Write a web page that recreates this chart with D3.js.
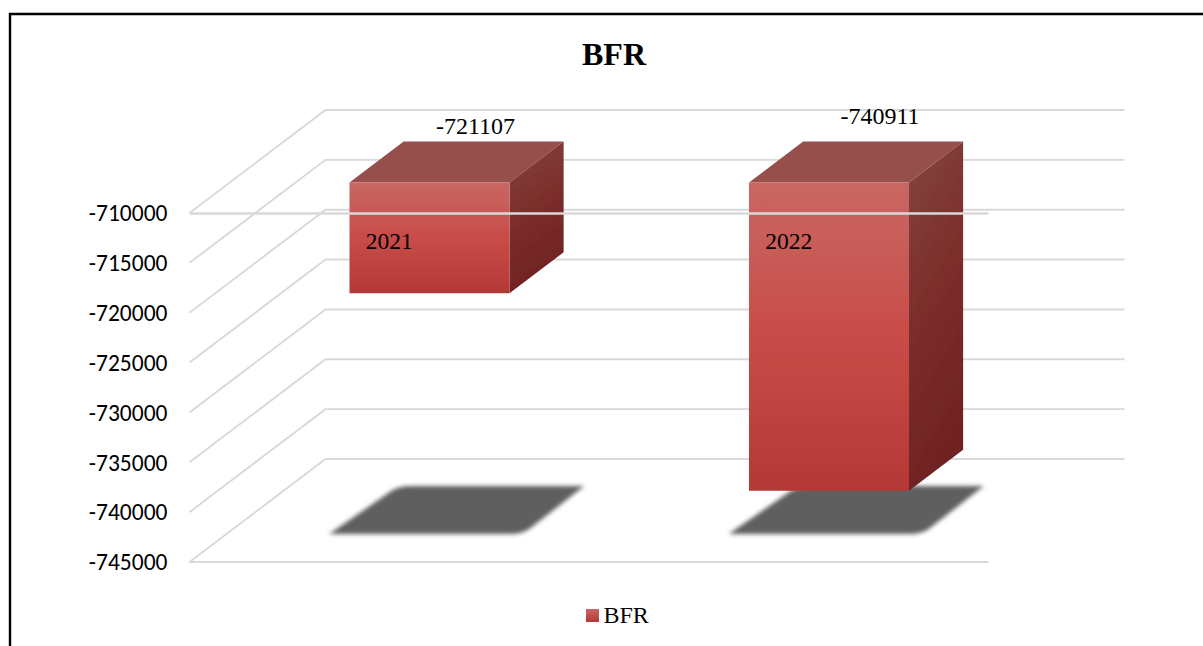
<!DOCTYPE html>
<html>
<head>
<meta charset="utf-8">
<script src="https://cdn.jsdelivr.net/npm/d3@7/dist/d3.min.js"></script>
<style>
html,body{margin:0;padding:0;background:#fff;overflow:hidden}
svg{display:block}
</style>
</head>
<body>
<svg id="chart" width="1203" height="646"></svg>
<script>
const chartTitle = "BFR";
const categories = ["2021", "2022"];
const seriesValues = [-721107, -740911];
const valueLabels = ["-721107", "-740911"];
const tickValues = [-710000, -715000, -720000, -725000, -730000, -735000, -740000, -745000];

const W = 1203, H = 646;
const svg = d3.select("#chart");
const serif = "'Liberation Serif','Times New Roman',serif";

const y = d3.scaleLinear().domain([-710000, -745000]).range([213, 562]);
const x = d3.scaleBand().domain(categories).range([189.5, 988.5]).paddingInner(0).paddingOuter(0);
const depthX = 136, depthY = 103;
const nearDepth = 0.296, farDepth = 0.694;
const barWidth = 160;
const proj = (px, v, d) => [px + d * depthX, y(v) - d * depthY];
const path = pts => "M" + pts.map(p => p.join(",")).join("L") + "Z";

const defs = svg.append("defs");
function gradient(id, x2, y2, stops) {
  const g = defs.append("linearGradient").attr("id", id)
    .attr("x1", 0).attr("y1", 0).attr("x2", x2).attr("y2", y2);
  stops.forEach(s => g.append("stop").attr("offset", s[0]).attr("stop-color", s[1]));
}
defs.append("filter").attr("id", "blur").attr("x", "-10%").attr("y", "-30%")
  .attr("width", "120%").attr("height", "160%")
  .append("feGaussianBlur").attr("stdDeviation", 2.2);
defs.append("filter").attr("id", "soft").attr("filterUnits", "userSpaceOnUse")
  .attr("x", 0).attr("y", 0).attr("width", W).attr("height", H)
  .append("feGaussianBlur").attr("stdDeviation", 0.45);

gradient("front", 0, 1, [[0, "#c96763"], [0.5, "#c84c48"], [1, "#b33936"]]);
gradient("side", 0.25, 1, [[0, "#84453f"], [0.5, "#7c2e2b"], [1, "#702222"]]);
gradient("legendGrad", 0, 1, [[0, "#cb6662"], [1, "#b43835"]]);

// frame
svg.append("path").attr("d", `M10,${H}V14H${W}`).attr("fill", "none")
  .attr("stroke", "#000").attr("stroke-width", 2.4);

// title
svg.append("text").attr("x", 614).attr("y", 65).attr("text-anchor", "middle")
  .attr("font-family", serif).attr("font-weight", "bold").attr("font-size", 32)
  .attr("fill", "#000").text(chartTitle);

const gridColor = "#d9d9d9";
const grid = svg.append("g").attr("fill", "none").attr("stroke", gridColor)
  .attr("stroke-width", 1.9).attr("filter", "url(#soft)");
const frontX = x.range()[0], frontEnd = x.range()[1];

// back wall lines and floor/side diagonals
tickValues.forEach(t => {
  const a = proj(frontX, t, 0), b = proj(frontX, t, 1), c = proj(frontEnd, t, 1);
  grid.append("path").attr("d", `M${a}L${b}L${c}`);
});
grid.append("line").attr("x1", frontX).attr("x2", frontEnd)
  .attr("y1", y(tickValues[tickValues.length - 1])).attr("y2", y(tickValues[tickValues.length - 1]));

// floor shadows
const shadowG = svg.append("g").attr("filter", "url(#blur)");
categories.forEach(c => {
  const cx = x(c) + x.bandwidth() / 2;
  const top = 486, bot = 534;
  shadowG.append("path").attr("fill", "#5e5e5e")
    .attr("d", `M${cx - 60},${bot}L${cx + 122},${bot}Q${cx + 132},${bot} ${cx + 140},${bot - 5}L${cx + 195},${top}L${cx + 22},${top}Q${cx + 10},${top} ${cx + 2},${top + 5}Z`);
});

// bars
const bars = svg.append("g").attr("filter", "url(#soft)").selectAll("g").data(categories).join("g");
bars.each(function (c, i) {
  const g = d3.select(this);
  const v = seriesValues[i], t = tickValues[0];
  const cx = x(c) + x.bandwidth() / 2;
  const l = cx - barWidth / 2, r = cx + barWidth / 2;
  g.append("path").attr("fill", "#96504c")
    .attr("d", path([proj(l, t, nearDepth), proj(r, t, nearDepth), proj(r, t, farDepth), proj(l, t, farDepth)]));
  g.append("path").attr("fill", "url(#side)")
    .attr("d", path([proj(r, t, nearDepth), proj(r, t, farDepth), proj(r, v, farDepth), proj(r, v, nearDepth)]));
  g.append("path").attr("fill", "url(#front)")
    .attr("d", path([proj(l, t, nearDepth), proj(r, t, nearDepth), proj(r, v, nearDepth), proj(l, v, nearDepth)]));
});

// front top gridline crosses over the bars
svg.append("line").attr("x1", frontX).attr("x2", frontEnd)
  .attr("y1", y(tickValues[0]) + 0.5).attr("y2", y(tickValues[0]) + 0.5)
  .attr("stroke", gridColor).attr("stroke-width", 2.4).attr("filter", "url(#soft)");

// value axis labels
const axis = d3.axisLeft(y).tickValues(tickValues).tickSize(0).tickPadding(22).tickFormat(d => String(d));
const axisG = svg.append("g").attr("transform", `translate(${frontX},0)`).call(axis);
axisG.select(".domain").remove();
axisG.selectAll("text").attr("font-family", "Carlito,Lato,sans-serif").attr("font-size", 23.5)
  .attr("fill", "#000").attr("dy", "0.33em");

// category + value labels
const labelPos = [[475.5, 134], [880, 124]];
categories.forEach((c, i) => {
  const cx = x(c) + x.bandwidth() / 2;
  svg.append("text").attr("x", cx).attr("y", 249).attr("text-anchor", "middle")
    .attr("font-family", serif).attr("font-size", 23.5).attr("fill", "#000").text(c);
  svg.append("text").attr("x", labelPos[i][0]).attr("y", labelPos[i][1]).attr("text-anchor", "middle")
    .attr("font-family", serif).attr("font-size", 24).attr("fill", "#000").text(valueLabels[i]);
});

// legend
svg.append("rect").attr("x", 586).attr("y", 609).attr("width", 13).attr("height", 13).attr("fill", "url(#legendGrad)");
svg.append("text").attr("x", 603.5).attr("y", 622.5).attr("font-family", serif).attr("font-size", 24)
  .attr("fill", "#000").text(chartTitle);
</script>
</body>
</html>
